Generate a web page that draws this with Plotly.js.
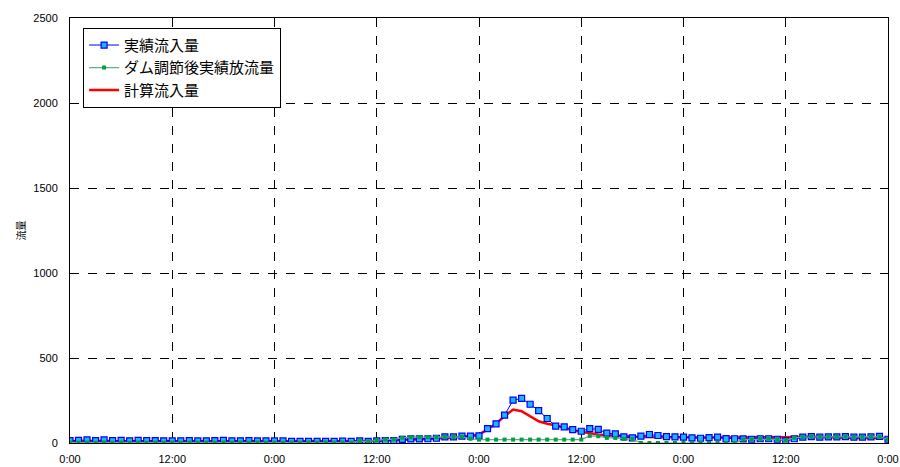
<!DOCTYPE html>
<html>
<head>
<meta charset="utf-8">
<script src="https://cdn.plot.ly/plotly-3.0.1.min.js"></script>
<style>html,body{margin:0;padding:0;background:#fff;}#chart{width:900px;height:467px;}</style>
</head>
<body>
<div id="chart"></div>
<script>
// hourly values over 4 days (97 points, hour 0 .. 96)
const tickHours = [0, 12, 24, 36, 48, 60, 72, 84, 96];
const tickLabels = ["0:00","12:00","0:00","12:00","0:00","12:00","0:00","12:00","0:00"];

const actualInflow = [
  14,16,18,14,18,14,15,13,15,14,14,13,13,13,14,12,13,14,15,12,13,14,12,13,
  12,12,10,10,10,10,10,9,11,10,12,10,
  12,14,14,21,24,24,25,28,
  36,36,40,40,42,
  84,113,164,252,262,228,191,144,99,95,79,69,
  85,80,58,54,36,30,
  40,50,44,38,36,35,30,28,32,35,26,25,24,
  22,25,25,22,12,25,34,37,34,36,36,38,34,34,36,39,22
];

const damOutflow = [
  3,2,3,2,3,2,3,2,3,2,3,2,3,2,3,2,3,2,3,2,3,2,3,2,
  3,2,3,2,3,2,3,2,3,2,
  11,10,15,21,21,31,34,34,34,34,36,36,36,25,
  20,20,20,20,20,20,20,20,20,20,20,20,20,
  42,40,30,30,24,24,
  0,0,0,0,0,0,0,0,0,0,0,0,
  21,21,25,25,22,16,31,34,37,36,36,36,37,36,36,36,37,21
];

const calcInflow = [
  9,9,9,9,9,9,9,9,9,9,9,9,9,9,9,9,9,9,9,9,9,9,9,9,
  8,8,8,8,8,8,8,8,8,8,9,10,
  12,14,15,17,19,21,23,26,
  31,33,36,42,50,
  80,113,158,197,187,158,128,113,104,89,75,66,
  56,50,46,42,40,38,
  36,35,35,34,34,33,33,33,32,32,32,32,32,
  31,31,31,32,34,36,38,37,35,33,32,31,30,30,30,30,30
];

const hours = actualInflow.map((_, i) => i);

const traces = [
  {
    name: "計算流入量", x: hours, y: calcInflow, type: "scatter", mode: "lines",
    line: {color: "#FF0000", width: 2.5}, legendrank: 3
  },
  {
    name: "実績流入量", x: hours, y: actualInflow, type: "scatter", mode: "lines+markers",
    line: {color: "#0000FF", width: 1},
    marker: {symbol: "square", size: 6, color: "#1EB4FF", line: {color: "#0000FF", width: 1.2}},
    legendrank: 1
  },
  {
    name: "ダム調節後実績放流量", x: hours, y: damOutflow, type: "scatter", mode: "lines+markers",
    line: {color: "#5FAF80", width: 1.2},
    marker: {symbol: "square", size: 4, color: "#00A040", line: {width: 0}},
    legendrank: 2
  }
];

const layout = {
  width: 900, height: 467,
  margin: {l: 70, r: 12, t: 18, b: 24, pad: 0},
  paper_bgcolor: "#FFFFFF", plot_bgcolor: "#FFFFFF",
  font: {family: "Liberation Sans, Arial, sans-serif", size: 11, color: "#000"},
  xaxis: {
    range: [0, 96], tickvals: tickHours, ticktext: tickLabels,
    showgrid: true, gridcolor: "#000", griddash: "dash", gridwidth: 1,
    showline: true, linecolor: "#000", linewidth: 1, mirror: true,
    ticks: "", zeroline: false, ticklabelstandoff: 6,
    tickfont: {size: 11, family: "Liberation Sans, Arial, sans-serif"}
  },
  yaxis: {
    range: [0, 2500], dtick: 500, tick0: 0,
    showgrid: true, gridcolor: "#000", griddash: "dash", gridwidth: 1,
    showline: true, linecolor: "#000", linewidth: 1, mirror: true,
    ticks: "", zeroline: false, ticklabelstandoff: 9,
    tickfont: {size: 11, family: "Liberation Sans, Arial, sans-serif"},
    title: {text: "流量", font: {size: 10, family: "Noto Sans CJK JP"}, standoff: 5}
  },
  showlegend: true,
  legend: {
    x: 0.016, y: 0.977, xanchor: "left", yanchor: "top",
    bgcolor: "#FFFFFF", bordercolor: "#000", borderwidth: 1,
    font: {size: 15, family: "Liberation Sans, Noto Sans CJK JP", color: "#000"},
    traceorder: "normal", tracegroupgap: 0, itemwidth: 30
  }
};

Plotly.newPlot("chart", traces, layout, {staticPlot: true, displayModeBar: false});
</script>
</body>
</html>
